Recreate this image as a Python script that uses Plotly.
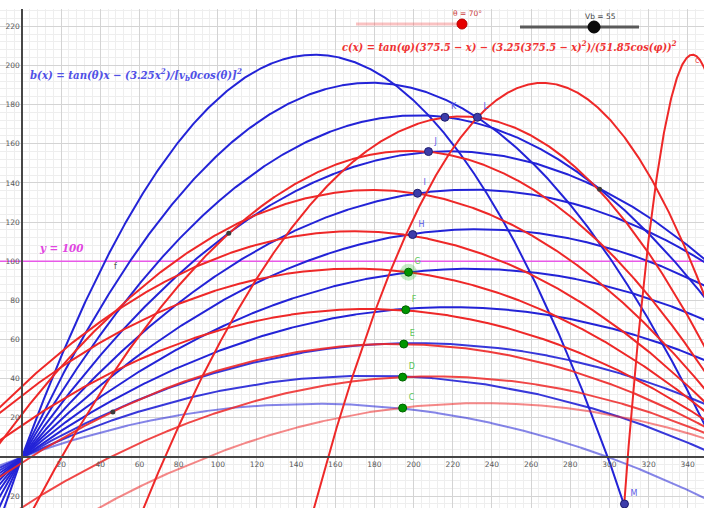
import numpy as np
import plotly.graph_objects as go

# ---- data ----
theta_deg = [20, 25, 30, 35, 40, 45, 50, 55, 60, 65, 70]          # blue curves b(x)
phi_deg = [21.4, 26.5, 31.9, 37.2, 43.0, 48.3, 54.3, 60.4, 66.5, 74.0, 85.4]  # red curves c(x)
v_b = 55
v_c = 51.85
x_c0 = 375.5
k_coef = 3.25
y_line = 100
theta_slider = 70

green_labels = ["C", "D", "E", "F", "G"]
green_x = [194.4, 194.4, 195.0, 196.0, 197.4]
green_y = [25.0, 40.8, 57.7, 75.2, 94.4]

blue_labels = ["H", "I", "J", "K", "L", "M"]
blue_x = [199.5, 202.0, 207.6, 216.0, 232.6, 307.7]
blue_y = [113.6, 134.7, 156.0, 173.5, 173.5, -24.0]

gray_x = [46.4, 105.6, 295.0]
gray_y = [23.0, 114.3, 136.7]

x_ticks = [20, 40, 60, 80, 100, 120, 140, 160, 180, 200, 220, 240, 260, 280, 300, 320, 340]
y_ticks = [-20, 20, 40, 60, 80, 100, 120, 140, 160, 180, 200, 220]

# ---- view ----
W, H = 704, 508
TOP = 9
X0PX, Y0PX, S = 22.0, 457.0, 1.958
x_range = [-X0PX / S, (W - X0PX) / S]
y_range = [(Y0PX - H) / S, (Y0PX - TOP) / S]

xs = np.linspace(x_range[0] - 1, x_range[1] + 1, 2500)

BLUE = "rgb(35,35,215)"
RED = "rgb(238,40,40)"
blue_alpha = [0.55, 0.9, 0.9, 1, 1, 1, 1, 1, 1, 1, 1]
red_alpha = [0.55, 0.85, 0.9, 1, 1, 1, 1, 1, 1, 1, 1]

fig = go.Figure()

def b_fun(x, th):
    t = np.radians(th)
    return np.tan(t) * x - k_coef * x ** 2 / (v_b * np.cos(t)) ** 2

def c_fun(x, ph):
    p = np.radians(ph)
    d = x_c0 - x
    return np.tan(p) * d - k_coef * d ** 2 / (v_c * np.cos(p)) ** 2

# y = 100 line
fig.add_trace(go.Scatter(x=[xs[0], xs[-1]], y=[y_line, y_line], mode="lines",
                         line=dict(color="rgb(232,90,232)", width=1.6), hoverinfo="skip"))

for i in range(len(theta_deg)):
    yb = b_fun(xs, theta_deg[i])
    yb = np.where(yb < -200, np.nan, yb)
    fig.add_trace(go.Scatter(x=xs, y=yb, mode="lines", opacity=blue_alpha[i],
                             line=dict(color=BLUE, width=2), hoverinfo="skip"))
for i in range(len(phi_deg)):
    yc = c_fun(xs, phi_deg[i])
    yc = np.where(yc < -200, np.nan, yc)
    fig.add_trace(go.Scatter(x=xs, y=yc, mode="lines", opacity=red_alpha[i],
                             line=dict(color=RED, width=2), hoverinfo="skip"))

# halo on G
fig.add_trace(go.Scatter(x=[green_x[4]], y=[green_y[4]], mode="markers",
                         marker=dict(size=17, color="rgba(0,170,0,0.22)"), hoverinfo="skip"))

fig.add_trace(go.Scatter(x=gray_x, y=gray_y, mode="markers",
                         marker=dict(size=5, color="rgb(60,60,60)"), hoverinfo="skip"))

fig.add_trace(go.Scatter(x=green_x, y=green_y, mode="markers+text", text=green_labels,
                         textposition="top right",
                         textfont=dict(size=8, color="rgb(90,200,90)", family="DejaVu Sans"),
                         marker=dict(size=8, color="rgb(0,150,0)",
                                     line=dict(color="rgb(0,100,0)", width=1)),
                         hoverinfo="skip"))
fig.add_trace(go.Scatter(x=blue_x, y=blue_y, mode="markers+text", text=blue_labels,
                         textposition="top right",
                         textfont=dict(size=8, color="rgb(90,90,230)", family="DejaVu Sans"),
                         marker=dict(size=8, color="rgb(60,60,170)",
                                     line=dict(color="rgb(30,30,110)", width=1)),
                         hoverinfo="skip"))

FF = "DejaVu Serif Condensed"
ann = [
    dict(x=3.0, y=195.2, xanchor="left", yanchor="middle",
         text="<b><i>b(x) = tan(θ)x − (3.25x<sup>2</sup>)/[v<sub>b</sub>0cos(θ)]<sup>2</sup></i></b>",
         font=dict(family=FF, size=11.3, color="rgb(80,80,230)")),
    dict(x=162.5, y=209.5, xanchor="left", yanchor="middle",
         text="<b><i>c(x) = tan(φ)(375.5 − x) − (3.25(375.5 − x)<sup>2</sup>)/(51.85cos(φ))<sup>2</sup></i></b>",
         font=dict(family=FF, size=11.0, color="rgb(240,50,50)")),
    dict(x=7.5, y=106.6, xanchor="left", yanchor="middle",
         text="<b><i>y = 100</i></b>",
         font=dict(family=FF, size=11.5, color="rgb(225,70,225)")),
    dict(x=48.0, y=97.5, xanchor="center", yanchor="middle", text="f",
         font=dict(family="DejaVu Sans", size=8, color="rgb(80,80,80)")),
    dict(x=344.6, y=202.5, xanchor="center", yanchor="middle", text="c",
         font=dict(family="DejaVu Sans", size=8, color="rgb(240,80,80)")),
]
for a in ann:
    a.update(showarrow=False, xref="x", yref="y")
    fig.add_annotation(**a)

# sliders (paper coords)
def px(xp):
    return xp / W
def py(yp):
    return (H - yp) / (H - TOP)

th_frac = theta_slider / 70.0
th_x = 356 + th_frac * (462 - 356)
fig.add_shape(type="line", xref="paper", yref="paper", x0=px(356), x1=px(462), y0=py(24), y1=py(24),
              line=dict(color="rgba(240,80,80,0.35)", width=3))
fig.add_shape(type="circle", xref="paper", yref="paper", x0=px(th_x - 5), x1=px(th_x + 5),
              y0=py(29), y1=py(19), fillcolor="rgb(230,0,0)", line=dict(color="rgb(180,0,0)", width=1))
fig.add_annotation(x=px(467), y=py(13), xref="paper", yref="paper", showarrow=False,
                   xanchor="center", yanchor="middle",
                   text="θ = %d°" % theta_slider, font=dict(size=7.5, color="rgb(200,60,60)", family="DejaVu Sans"))
vb_x = 520 + (v_b / 88.4) * (639 - 520)
fig.add_shape(type="line", xref="paper", yref="paper", x0=px(520), x1=px(639), y0=py(27), y1=py(27),
              line=dict(color="rgb(90,90,90)", width=3))
fig.add_shape(type="circle", xref="paper", yref="paper", x0=px(vb_x - 6), x1=px(vb_x + 6),
              y0=py(33), y1=py(21), fillcolor="rgb(10,10,10)", line=dict(color="black", width=1))
fig.add_annotation(x=px(600), y=py(16), xref="paper", yref="paper", showarrow=False,
                   xanchor="center", yanchor="middle",
                   text="Vb = %d" % v_b, font=dict(size=7.5, color="rgb(60,60,60)", family="DejaVu Sans"))

axis_common = dict(showgrid=True, gridcolor="rgb(212,212,212)", gridwidth=1,
                   zeroline=False, showline=True, linecolor="rgb(70,70,70)", linewidth=1.5,
                   ticks="", tickfont=dict(size=7.5, color="rgb(90,90,90)", family="DejaVu Sans"),
                   anchor="free", fixedrange=True)

fig.update_layout(
    width=W, height=H, autosize=False,
    margin=dict(l=0, r=0, t=TOP, b=0),
    paper_bgcolor="white", plot_bgcolor="white",
    showlegend=False,
    xaxis=dict(range=x_range, tickmode="array", tickvals=x_ticks, ticktext=[str(v) for v in x_ticks],
               position=(H - Y0PX) / (H - TOP),
               minor=dict(tickmode="linear", tick0=0, dtick=4, showgrid=True,
                          gridcolor="rgb(238,238,238)", gridwidth=1),
               **axis_common),
    yaxis=dict(range=y_range, tickmode="array", tickvals=y_ticks, ticktext=[str(v) for v in y_ticks],
               position=X0PX / W,
               minor=dict(tickmode="linear", tick0=0, dtick=4, showgrid=True,
                          gridcolor="rgb(238,238,238)", gridwidth=1),
               **axis_common),
)

fig.write_html("out.html")
